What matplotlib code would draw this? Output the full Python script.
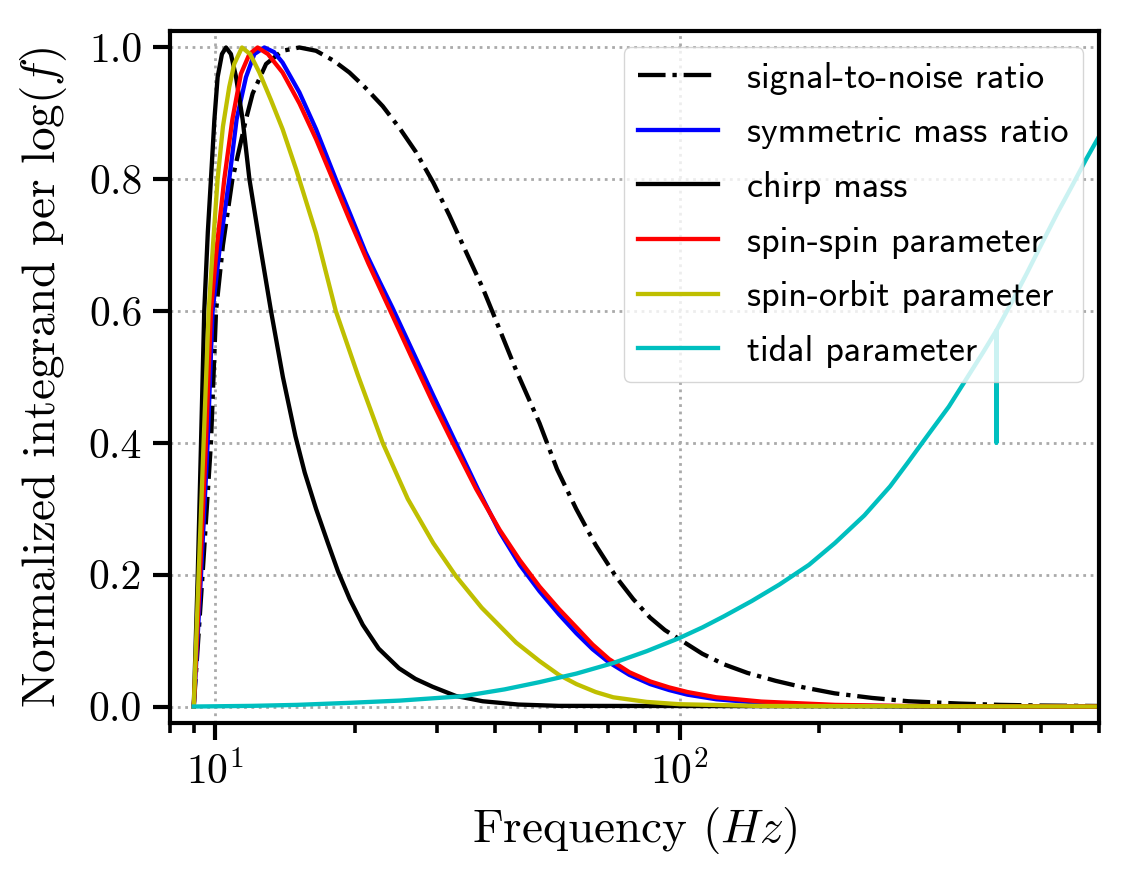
import numpy as np
import matplotlib
matplotlib.use("Agg")
import matplotlib.pyplot as plt
from matplotlib.font_manager import FontProperties

# ------------------------------------------------------------------
# values (frequency in Hz, normalized)
# ------------------------------------------------------------------
snr_f = [9, 9.4, 9.8, 10.05, 10.4, 10.9, 11.66, 12.05, 12.88, 13.98, 15.19,
         16.5, 18, 19.47, 21, 22.96, 25, 27.1, 29.5, 31.97, 34.7, 37.7, 40.3,
         44.5, 49.95, 54.5, 59.9, 66, 73.3, 79.5, 86.4, 93, 100, 112, 124.7,
         140, 161, 185, 215.8, 260, 311, 400, 491, 600, 800]
snr_y = [0, 0.2, 0.4, 0.6, 0.7, 0.8, 0.891, 0.93, 0.975, 0.995, 1.0,
         0.995, 0.98, 0.962, 0.94, 0.911, 0.877, 0.841, 0.795, 0.745, 0.69, 0.635, 0.585,
         0.51, 0.43, 0.36, 0.30, 0.245, 0.195, 0.163, 0.135, 0.116, 0.102, 0.08, 0.064,
         0.051, 0.039, 0.029, 0.02, 0.013, 0.008, 0.0045, 0.0025, 0.0015, 0.0008]

eta_f = [9, 9.33, 9.64, 9.88, 10.25, 10.73, 11.13, 11.66, 12.15, 12.77, 13.4,
         13.98, 15.19, 16.5, 18.2, 19.6, 21.1, 22.6, 24.1, 26.2, 29.5, 33.0,
         36.8, 41.0, 45.3, 49.95, 55, 60, 65, 70.5, 78, 86.5, 95, 104, 120, 150,
         216, 311, 800]
eta_y = [0, 0.2, 0.4, 0.6, 0.7, 0.8, 0.891, 0.955, 0.99, 1.0, 0.993,
         0.977, 0.932, 0.876, 0.80, 0.745, 0.689, 0.645, 0.605, 0.55, 0.472, 0.40,
         0.33, 0.265, 0.215, 0.175, 0.14, 0.111, 0.087, 0.067, 0.048, 0.034, 0.025,
         0.018, 0.011, 0.0055, 0.0015, 0.0004, 0]

mc_f = [9, 9.18, 9.33, 9.48, 9.65, 9.8, 9.97, 10.13, 10.35, 10.56, 10.82,
        11.1, 11.47, 11.86, 12.5, 13.2, 14.0, 14.9, 15.6, 16.5, 17.5, 18.4,
        19.5, 20.8, 22.5, 24.9, 27, 29.4, 33, 37.7, 45, 55, 800]
mc_y = [0, 0.2, 0.4, 0.6, 0.72, 0.8, 0.891, 0.955, 0.99, 1.0, 0.99,
        0.955, 0.89, 0.80, 0.70, 0.60, 0.50, 0.41, 0.355, 0.30, 0.248, 0.205,
        0.163, 0.124, 0.088, 0.058, 0.042, 0.03, 0.016, 0.008, 0.003, 0.001, 0]

ss_f = [9, 9.28, 9.56, 9.80, 10.1, 10.47, 10.9, 11.37, 11.86, 12.35, 13.0,
        13.98, 15.2, 16.5, 18, 19.47, 21.4, 23.5, 26.5, 29.5, 32.5, 36.5, 41.0,
        45.3, 49.95, 55, 60, 65, 70.5, 78, 86.5, 95, 104, 120, 150, 216, 311, 800]
ss_y = [0, 0.2, 0.4, 0.6, 0.7, 0.8, 0.891, 0.96, 0.99, 1.0, 0.99,
        0.962, 0.915, 0.861, 0.797, 0.739, 0.672, 0.61, 0.53, 0.46, 0.40, 0.33, 0.268,
        0.222, 0.182, 0.148, 0.12, 0.094, 0.072, 0.052, 0.038, 0.029, 0.022, 0.014,
        0.0075, 0.0025, 0.0008, 0]

so_f = [9, 9.22, 9.45, 9.69, 9.9, 10.13, 10.4, 10.73, 11.0, 11.43, 11.9,
        12.46, 13.2, 13.98, 14.95, 16.5, 18.2, 20.3, 22.96, 26, 29.5, 33.0,
        37.5, 44.5, 49.95, 55, 60, 66, 72, 85, 100, 150, 800]
so_y = [0, 0.2, 0.4, 0.6, 0.7, 0.8, 0.88, 0.94, 0.975, 1.0, 0.99,
        0.962, 0.92, 0.876, 0.815, 0.718, 0.60, 0.503, 0.40, 0.315, 0.248, 0.198,
        0.15, 0.097, 0.069, 0.048, 0.034, 0.022, 0.014, 0.007, 0.0035, 0.0008, 0]

tid_f = [9, 12, 15, 19.47, 25, 34.1, 42, 49.95, 60, 72, 85, 100, 112, 124.7,
         143, 164, 190, 216, 250, 284, 310, 341, 380, 417, 450, 480.5, 481,
         481.5, 519.6, 560, 600, 650, 700, 750, 800]
tid_y = [0, 0.001, 0.0025, 0.0056, 0.009, 0.0156, 0.026, 0.037, 0.05, 0.066,
         0.084, 0.104, 0.12, 0.137, 0.16, 0.185, 0.215, 0.248, 0.29, 0.334, 0.37,
         0.41, 0.455, 0.50, 0.537, 0.57, 0.40, 0.571, 0.614, 0.658, 0.70, 0.748,
         0.79, 0.83, 0.865]

labels = ["signal-to-noise ratio", "symmetric mass ratio", "chirp mass",
          "spin-spin parameter", "spin-orbit parameter", "tidal parameter"]

# ------------------------------------------------------------------
plt.rcParams['font.family'] = 'cmr10'
plt.rcParams['mathtext.fontset'] = 'cm'
plt.rcParams['axes.formatter.use_mathtext'] = True

fig = plt.figure(figsize=(11.33, 8.73), dpi=100)
ax = fig.add_axes([170/1133, 1 - 723/873, (1099 - 170)/1133, (723 - 31)/873])

lw = 3.1
ax.semilogx(snr_f, snr_y, 'k-.', lw=lw, label=labels[0])
ax.semilogx(eta_f, eta_y, 'b-', lw=lw, label=labels[1])
ax.semilogx(mc_f, mc_y, 'k-', lw=lw, label=labels[2])
ax.semilogx(ss_f, ss_y, 'r-', lw=lw, label=labels[3])
ax.semilogx(so_f, so_y, 'y-', lw=lw, label=labels[4])
ax.semilogx(tid_f, tid_y, 'c-', lw=lw, label=labels[5])

ax.set_xlim(8, 800)
ax.set_ylim(-0.025, 1.025)
ax.set_yticks([0.0, 0.2, 0.4, 0.6, 0.8, 1.0])
ax.set_yticklabels(["0.0", "0.2", "0.4", "0.6", "0.8", "1.0"])

ax.grid(True, which='major', linestyle=':', color='#aaaaaa', lw=2.0)

for s in ax.spines.values():
    s.set_linewidth(3.0)
ax.tick_params(which='major', direction='out', length=12, width=3.0,
               labelsize=30, pad=8)
ax.tick_params(which='minor', direction='out', length=7, width=2.6)

ax.set_xlabel(r"Frequency $(Hz)$", fontsize=34, labelpad=10)
ax.set_ylabel(r"Normalized integrand per $\log(f)$", fontsize=34, labelpad=14)

leg = ax.legend(loc='upper right', prop=FontProperties(family='cmss10', size=26),
                framealpha=0.8, handlelength=2.2, handletextpad=0.8,
                labelspacing=0.6, borderaxespad=0.45)

fig.savefig("out.png", dpi=100)
